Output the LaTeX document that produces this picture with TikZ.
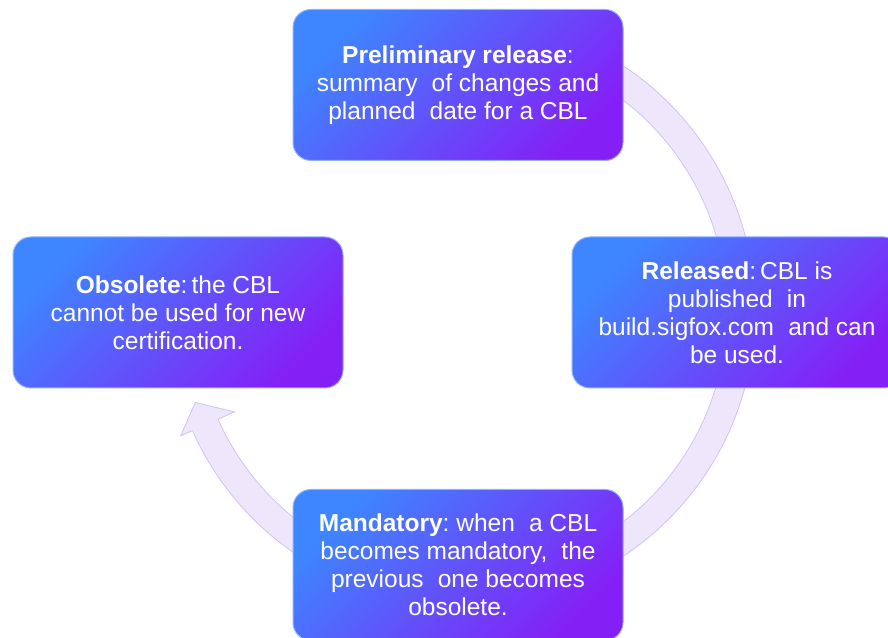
\documentclass[tikz,border=0pt]{standalone}
\usepackage{fontspec}
\setmainfont{Liberation Sans}
\usetikzlibrary{calc,backgrounds}
\definecolor{boxA}{HTML}{3D86FF}
\definecolor{boxB}{HTML}{8420F6}
\definecolor{boxline}{HTML}{8DB0FF}
\definecolor{bandfill}{HTML}{EEE6FB}
\definecolor{bandline}{HTML}{D3C2F1}
\newcommand\xsp{\hspace{0.3em}}
\begin{document}
\frenchspacing
\begin{tikzpicture}[x=1pt,y=1pt,
  stagebox/.style={rectangle, rounded corners=18pt, minimum width=330pt,
    minimum height=151pt, inner sep=0pt, draw=boxline, line width=1pt,
    top color=boxA, bottom color=boxB, shading angle=45, text=white,
    align=center, font=\fontsize{24.5}{28}\selectfont},
  band/.style={fill=bandfill, draw=bandline, line width=0.8pt}]
\useasboundingbox (0,0) rectangle (888,637);
\coordinate (ctr) at (461,326);
\node[stagebox] (pre) at (458,552) {\textbf{Preliminary release}:\\summary \xsp of changes and\\planned \xsp date for a CBL};
\node[stagebox] (rel) at (737,324.5) {\textbf{Released}:\,CBL is\\published \xsp in\\build.sigfox.com \xsp and can\\be used.};
\node[stagebox] (obs) at (178,324.5) {\textbf{Obsolete}:\,the CBL\\cannot be used for new\\certification.};
\node[stagebox] (man) at (458,72) {\textbf{Mandatory}: when \xsp a CBL\\becomes mandatory, \xsp the\\previous \xsp one becomes\\obsolete.};
\begin{scope}[on background layer]
\fill[white] (0,0) rectangle (888,637);
% pre -> rel
\draw[band] ($(ctr)+(65:294)$) arc[start angle=65,end angle=5,radius=294]
  -- ($(ctr)+(5:266)$) arc[start angle=5,end angle=65,radius=266] -- cycle;
% rel -> man
\draw[band] ($(ctr)+(-5:294)$) arc[start angle=-5,end angle=-65,radius=294]
  -- ($(ctr)+(-65:266)$) arc[start angle=-65,end angle=-5,radius=266] -- cycle;
% man -> obs (with head)
\draw[band] ($(ctr)+(250:294)$) arc[start angle=250,end angle=204,radius=294]
  -- ($(ctr)+(204:307)$) -- ($(ctr)+(199:281)$) -- ($(ctr)+(204:248)$)
  -- ($(ctr)+(204:266)$) arc[start angle=204,end angle=250,radius=266] -- cycle;
\end{scope}
\end{tikzpicture}
\end{document}
